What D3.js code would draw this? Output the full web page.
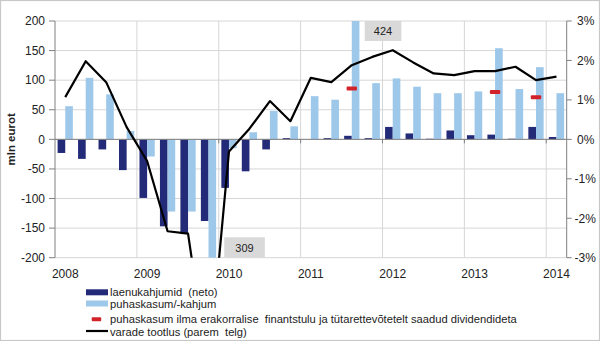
<!DOCTYPE html>
<html><head><meta charset="utf-8">
<script src="https://cdn.jsdelivr.net/npm/d3@7"></script>
<style>
html,body{margin:0;padding:0;background:#fff;}
svg text{font-family:"Liberation Sans",Arial,sans-serif;}
</style></head>
<body>
<svg id="c" width="600" height="341"></svg>
<script>
const quarters = ["2008Q1","2008Q2","2008Q3","2008Q4","2009Q1","2009Q2","2009Q3","2009Q4","2010Q1","2010Q2","2010Q3","2010Q4","2011Q1","2011Q2","2011Q3","2011Q4","2012Q1","2012Q2","2012Q3","2012Q4","2013Q1","2013Q2","2013Q3","2013Q4","2014Q1"];
const laenukahjumid = [-23,-33,-17,-52,-99,-147,-160,-138,-82,-54,-17,2,0,2,6,2,21,10,1,15,7,8,1,21,4];
const puhaskasum = [56,104,76,14,-29,-122,-122,-309,-15,12,48,22,73,67,424,95,103,89,78,78,81,154,85,122,78];
const tootlus = [1.07,1.98,1.45,0.31,-0.55,-2.33,-2.39,-5.9,-0.31,0.27,0.97,0.46,1.56,1.45,1.88,2.09,2.26,1.95,1.67,1.63,1.73,1.73,1.84,1.50,1.59];
const erakorraline = [null,null,null,null,null,null,null,null,null,null,null,null,null,null,86,null,null,null,null,null,null,80,null,71,null];
const leftTicks = [200,150,100,50,0,-50,-100,-150,-200];
const rightTicks = [3,2,1,0,-1,-2,-3];
const yearLabels = ["2008","2009","2010","2011","2012","2013","2014"];
const legendLabels = ["laenukahjumid  (neto)","puhaskasum/-kahjum","puhaskasum ilma erakorralise  finantstulu ja tütarettevõtetelt saadud dividendideta","varade tootlus (parem  telg)"];

const C = {dark:"#232a78", light:"#9ec8ea", red:"#d2232a", grid:"#d6d6d6", axis:"#808080"};
const L = 55, R = 566.7, T = 21, B = 257.7;

const svg = d3.select("#c");
svg.append("rect").attr("x",0.5).attr("y",0.5).attr("width",599).attr("height",340)
  .attr("fill","#fff").attr("stroke","#c8c8c8").attr("stroke-width",1.2);

const x = d3.scaleBand().domain(quarters).range([L,R]).padding(0);
const bw = x.bandwidth();
const x1 = d3.scaleBand().domain(["d","l"]).range([0,bw]).paddingInner(0).paddingOuter(0.34);
const yL = d3.scaleLinear().domain([-200,200]).range([B,T]);
const yR = d3.scaleLinear().domain([-3,3]).range([B,T]);

// horizontal grid
svg.append("g").selectAll("line").data(leftTicks).join("line")
  .attr("x1",L).attr("x2",R).attr("y1",d=>yL(d)).attr("y2",d=>yL(d))
  .attr("stroke",C.grid).attr("stroke-width",1);
// vertical grid at year starts
const yearStarts = quarters.filter(q=>q.endsWith("Q1")).slice(1);
svg.append("g").selectAll("line").data(yearStarts).join("line")
  .attr("x1",d=>x(d)).attr("x2",d=>x(d)).attr("y1",T).attr("y2",B)
  .attr("stroke",C.grid).attr("stroke-width",1);

// bars
const gb = svg.append("g");
gb.selectAll(".d").data(laenukahjumid).join("rect").attr("class","d")
  .attr("x",(d,i)=>x(quarters[i])+x1("d")).attr("width",x1.bandwidth())
  .attr("y",d=>yL(Math.max(0,d))).attr("height",d=>Math.abs(yL(d)-yL(0)))
  .attr("fill",C.dark);
gb.selectAll(".l").data(puhaskasum).join("rect").attr("class","l")
  .attr("x",(d,i)=>x(quarters[i])+x1("l")).attr("width",x1.bandwidth())
  .attr("y",d=>Math.max(T,yL(Math.max(0,d))))
  .attr("height",d=>d>=0 ? yL(0)-Math.max(T,yL(d)) : Math.min(B,yL(d))-yL(0))
  .attr("fill",C.light);

// annotation boxes for clipped bars
function note(i, val, top){
  const bx = x(quarters[i]) + bw + (top?2.7:5.5);
  const bwid = top?36.6:40.6, bh = top?20:20.4;
  const by = top ? T : B - bh;
  svg.append("rect").attr("x",bx).attr("y",by).attr("width",bwid).attr("height",bh).attr("fill","#d9d9d9");
  svg.append("text").attr("x",bx+bwid/2).attr("y",by+bh/2+4).attr("text-anchor","middle")
    .attr("font-size",11).attr("fill","#222").text(val);
}
note(14, puhaskasum[14], true);
note(7, -puhaskasum[7], false);

// axes lines
svg.append("line").attr("x1",L).attr("x2",R).attr("y1",yL(0)).attr("y2",yL(0)).attr("stroke",C.axis).attr("stroke-width",1);
svg.append("g").selectAll("line").data(yearStarts).join("line")
  .attr("x1",d=>x(d)).attr("x2",d=>x(d)).attr("y1",yL(0)).attr("y2",yL(0)+4).attr("stroke",C.axis);
svg.append("line").attr("x1",L).attr("x2",L).attr("y1",T).attr("y2",B).attr("stroke",C.axis);
svg.append("line").attr("x1",R).attr("x2",R).attr("y1",T).attr("y2",B).attr("stroke",C.axis);
svg.append("g").selectAll("line").data(leftTicks).join("line")
  .attr("x1",L-6).attr("x2",L).attr("y1",d=>yL(d)).attr("y2",d=>yL(d)).attr("stroke",C.axis);
svg.append("g").selectAll("line").data(rightTicks).join("line")
  .attr("x1",R).attr("x2",R+5).attr("y1",d=>yR(d)).attr("y2",d=>yR(d)).attr("stroke",C.axis);

// red dashes
svg.append("g").selectAll("rect").data(erakorraline.map((v,i)=>({v,i})).filter(d=>d.v!==null)).join("rect")
  .attr("x",d=>x(quarters[d.i])+bw/2-5.2).attr("y",d=>yL(d.v)-2).attr("width",10.4).attr("height",4)
  .attr("rx",1).attr("fill",C.red);

// line, clipped
svg.append("clipPath").attr("id","clip").append("rect").attr("x",L).attr("y",T-2).attr("width",R-L).attr("height",B-T+2);
svg.append("path").datum(tootlus).attr("clip-path","url(#clip)")
  .attr("d",d3.line().x((d,i)=>x(quarters[i])+bw/2).y(d=>yR(d)))
  .attr("fill","none").attr("stroke","#000").attr("stroke-width",2.2).attr("stroke-linejoin","round");

// tick labels
svg.append("g").selectAll("text").data(leftTicks).join("text")
  .attr("x",45).attr("y",d=>yL(d)+4.3).attr("text-anchor","end").attr("font-size",12).attr("fill","#222").text(d=>d);
svg.append("g").selectAll("text").data(rightTicks).join("text")
  .attr("x",d=>d<0?574.5:577).attr("y",d=>yR(d)+4.3).attr("font-size",12).attr("fill","#222").text(d=>d+"%");
svg.append("g").selectAll("text").data(yearLabels).join("text")
  .attr("x",d=>x(d+"Q1")+bw/2).attr("y",278).attr("text-anchor","middle").attr("font-size",12).attr("fill","#222").text(d=>d);

// y label
svg.append("text").attr("transform",`translate(15,${(T+B)/2}) rotate(-90)`).attr("text-anchor","middle")
  .attr("font-size",11.5).attr("font-weight","bold").attr("fill","#222").text("mln eurot");

// legend
const lg = svg.append("g");
const rowsY = [292.3,303.5,319.3,331];
lg.append("rect").attr("x",86).attr("y",rowsY[0]-3).attr("width",22).attr("height",6).attr("fill",C.dark);
lg.append("rect").attr("x",86).attr("y",rowsY[1]-3).attr("width",22).attr("height",6).attr("fill",C.light);
lg.append("rect").attr("x",91.7).attr("y",rowsY[2]-2).attr("width",9.5).attr("height",4).attr("rx",1).attr("fill",C.red);
lg.append("line").attr("x1",86).attr("x2",108).attr("y1",rowsY[3]).attr("y2",rowsY[3]).attr("stroke","#000").attr("stroke-width",2.2);
const baseY = [295.8,308.3,323.3,335.7];
lg.selectAll("text").data(legendLabels).join("text")
  .attr("x",110).attr("y",(d,i)=>baseY[i]).attr("font-size",11.2).attr("fill","#222")
  .style("white-space","pre").text(d=>d);
</script>
</body></html>
